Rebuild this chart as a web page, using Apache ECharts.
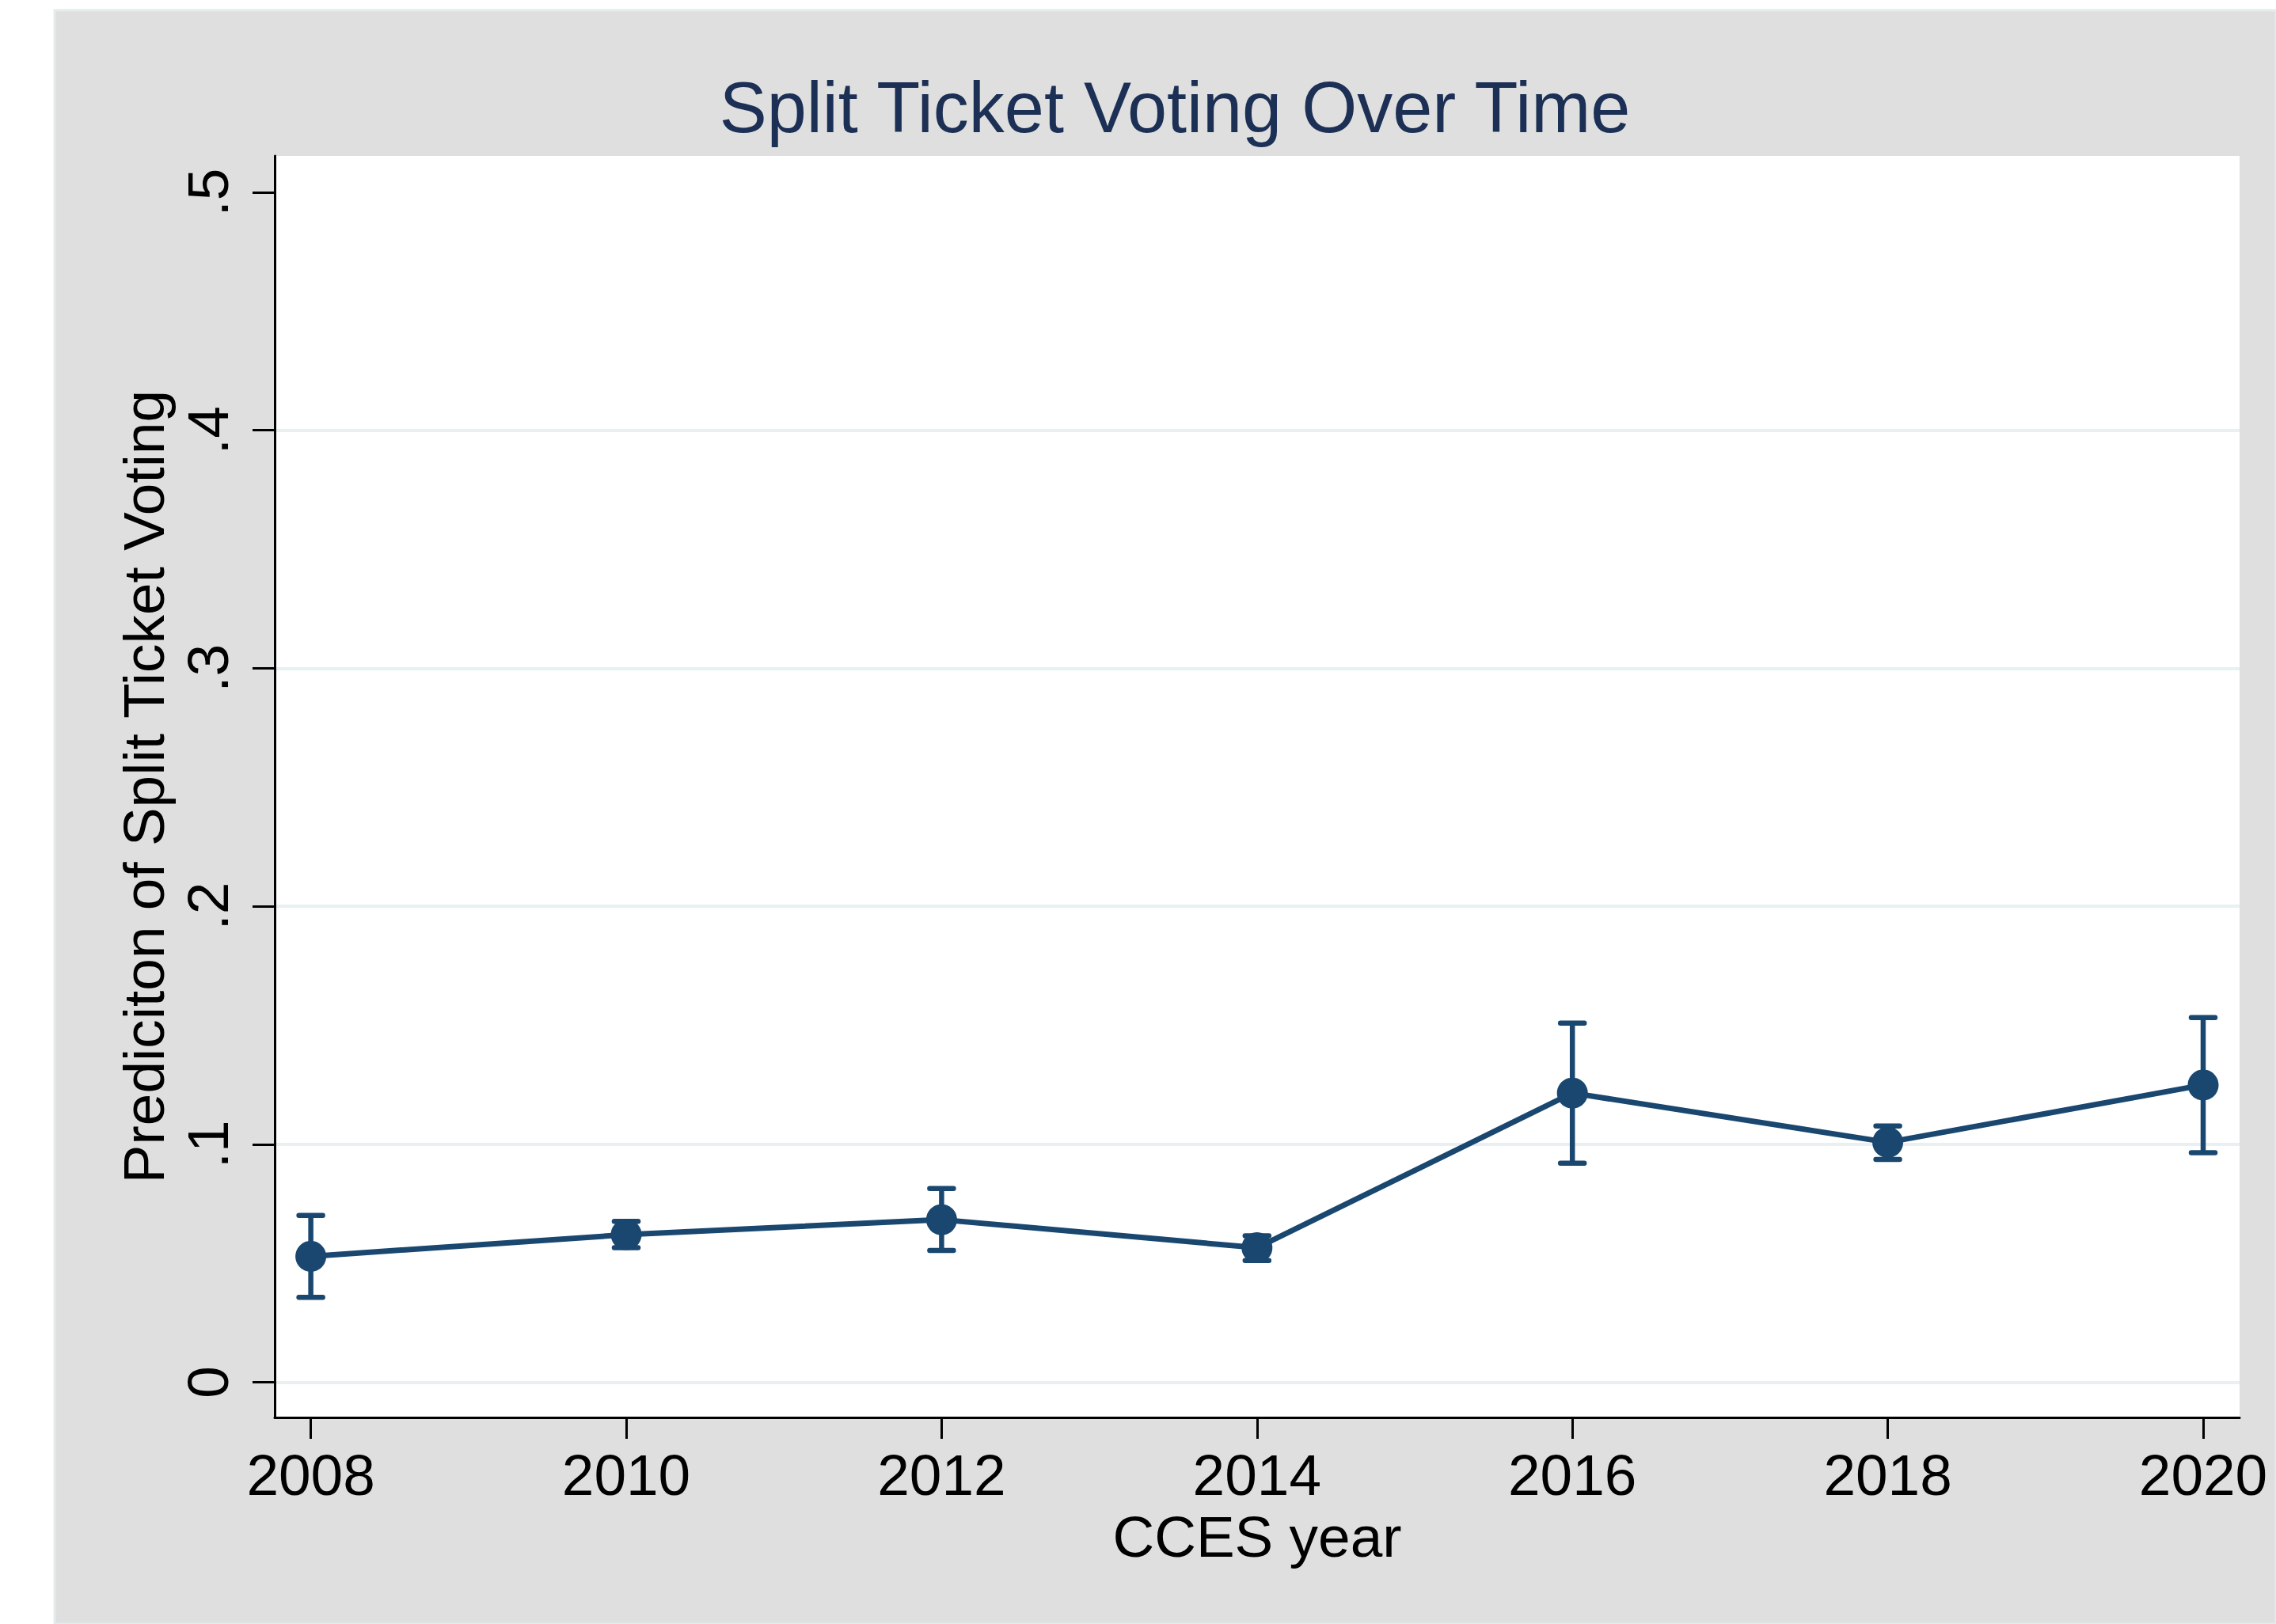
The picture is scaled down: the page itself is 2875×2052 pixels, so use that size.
<!DOCTYPE html>
<html>
<head>
<meta charset="utf-8">
<script src="https://cdn.jsdelivr.net/npm/echarts@6/dist/echarts.min.js"></script>
<style>
html,body{margin:0;padding:0;background:#ffffff;}
#chart{width:2875px;height:2052px;}
</style>
</head>
<body>
<div id="chart"></div>
<script>
// ---- data ----
const years = [2008, 2010, 2012, 2014, 2016, 2018, 2020];
const prediction = [0.0529, 0.0620, 0.0683, 0.0565, 0.1215, 0.1008, 0.1249];
const ciLower = [0.0357, 0.0565, 0.0554, 0.0511, 0.0920, 0.0936, 0.0964];
const ciUpper = [0.0701, 0.0676, 0.0814, 0.0615, 0.1509, 0.1077, 0.1532];
const xTickValues = [2008, 2010, 2012, 2014, 2016, 2018, 2020];
const yTickValues = [0, 0.1, 0.2, 0.3, 0.4, 0.5];
const gridLineValues = [0, 0.1, 0.2, 0.3, 0.4];
const titleText = 'Split Ticket Voting Over Time';
const xTitle = 'CCES year';
const yTitle = 'Prediciton of Split Ticket Voting';

// ---- style ----
const NAVY = '#1a476f';
const FONT = '"Liberation Sans", Arial, Helvetica, sans-serif';
const Y_MIN = -0.0148, Y_MAX = 0.5153;

const chart = echarts.init(document.getElementById('chart'), null, {renderer: 'svg'});

const pointData = years.map((y, i) => [y, prediction[i]]);
const ciData = years.map((y, i) => [y, ciLower[i], ciUpper[i]]);

function yFmt(v) {
  if (Math.abs(v) < 1e-9) return '0';
  return String(Math.round(v * 10) / 10).replace(/^0/, '');
}

chart.setOption({
  animation: false,
  backgroundColor: '#ffffff',
  graphic: [
    {
      type: 'rect', z: -10, silent: true,
      shape: {x: 69, y: 13, width: 2875 - 69, height: 2052 - 13},
      style: {fill: '#dfdfdf', stroke: '#e4ecec', lineWidth: 3}
    },
    {
      type: 'text', z: 10, silent: true,
      x: 1484, y: 136,
      style: {
        text: titleText, fill: '#1c2f55', font: '90px ' + FONT,
        textAlign: 'center', textVerticalAlign: 'middle'
      }
    }
  ],
  grid: {
    left: 347, right: 46, top: 197, bottom: 261,
    show: true, backgroundColor: '#ffffff', borderWidth: 0,
    containLabel: false
  },
  xAxis: {
    type: 'value',
    min: 2007.771, max: 2020.231,
    name: xTitle, nameLocation: 'middle', nameGap: 108,
    nameTextStyle: {color: '#000', fontSize: 73, fontFamily: FONT},
    axisLine: {show: true, onZero: false, lineStyle: {color: '#000', width: 3}},
    axisTick: {show: true, length: 27, inside: false, customValues: xTickValues, lineStyle: {color: '#000', width: 3}},
    axisLabel: {show: true, customValues: xTickValues, margin: 36, color: '#000', fontSize: 73, fontFamily: FONT,
      formatter: v => String(v)},
    splitLine: {show: false}
  },
  yAxis: [
    {
      type: 'value',
      min: Y_MIN, max: Y_MAX,
      name: yTitle, nameLocation: 'middle', nameGap: 125, nameRotate: 90,
      nameTextStyle: {color: '#000', fontSize: 73, fontFamily: FONT},
      axisLine: {show: true, onZero: false, lineStyle: {color: '#000', width: 3}},
      axisTick: {show: true, length: 28, inside: false, customValues: yTickValues, lineStyle: {color: '#000', width: 3}},
      axisLabel: {show: true, customValues: yTickValues, rotate: 90, margin: 48, color: '#000', fontSize: 73, fontFamily: FONT,
        formatter: yFmt},
      splitLine: {show: false},
      z: 3
    },
    {
      // invisible helper axis that only draws the horizontal grid lines
      type: 'value', position: 'left',
      min: Y_MIN, max: Y_MAX,
      axisLine: {show: false},
      axisTick: {show: false, customValues: gridLineValues},
      axisLabel: {show: false, customValues: gridLineValues},
      splitLine: {show: true, lineStyle: {color: '#e8f0f2', width: 4, type: 'solid'}},
      z: 1
    }
  ],
  series: [
    {
      type: 'custom', name: 'CI', z: 3, silent: true,
      data: ciData,
      renderItem: function (params, api) {
        const x = api.value(0);
        const lo = api.coord([x, api.value(1)]);
        const hi = api.coord([x, api.value(2)]);
        const half = 15;
        const st = {stroke: NAVY, lineWidth: 6.5, lineCap: 'round', fill: null};
        return {
          type: 'group',
          children: [
            {type: 'line', shape: {x1: lo[0], y1: lo[1], x2: hi[0], y2: hi[1]}, style: Object.assign({}, st, {lineCap: 'butt'})},
            {type: 'line', shape: {x1: lo[0] - half, y1: lo[1], x2: lo[0] + half, y2: lo[1]}, style: st},
            {type: 'line', shape: {x1: hi[0] - half, y1: hi[1], x2: hi[0] + half, y2: hi[1]}, style: st}
          ]
        };
      }
    },
    {
      type: 'line', name: 'Prediction', z: 4,
      data: pointData,
      symbol: 'circle', symbolSize: 39,
      lineStyle: {color: NAVY, width: 7},
      itemStyle: {color: NAVY},
      emphasis: {disabled: true}
    }
  ]
});
</script>
</body>
</html>
